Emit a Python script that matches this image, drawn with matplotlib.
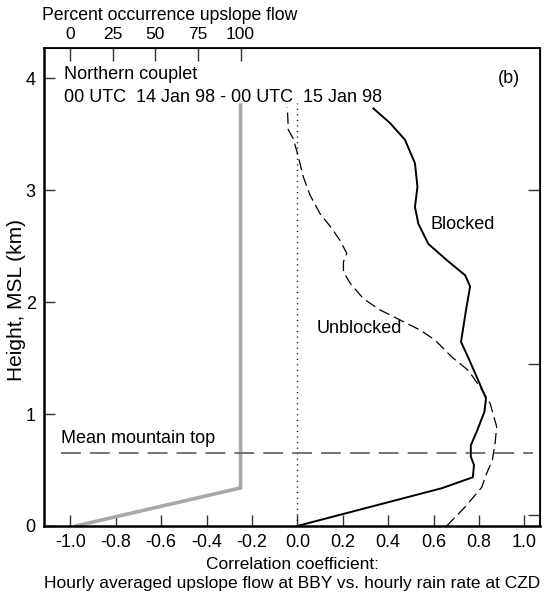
"""Correlation profiles of upslope flow vs rain rate, northern couplet (panel b)."""

import matplotlib

matplotlib.use("Agg")
import matplotlib.pyplot as plt

plt.rcParams["font.family"] = ["Liberation Sans", "DejaVu Sans"]
plt.rcParams["axes.unicode_minus"] = False

# blocked (solid) profile: correlation, height km
blocked_r = [0.0, 0.636, 0.773, 0.778, 0.764, 0.764, 0.793, 0.824, 0.831, 0.797,
             0.758, 0.721, 0.743, 0.761, 0.739, 0.658, 0.577, 0.533, 0.518,
             0.529, 0.518, 0.474, 0.408, 0.335]
blocked_z = [0.0, 0.337, 0.435, 0.545, 0.62, 0.72, 0.857, 1.02, 1.14, 1.30,
             1.48, 1.645, 1.93, 2.14, 2.24, 2.375, 2.52, 2.70, 2.85,
             3.03, 3.24, 3.45, 3.60, 3.73]

# unblocked (dashed) profile
unblocked_r = [0.658, 0.739, 0.812, 0.834, 0.859, 0.871, 0.878, 0.849, 0.805,
               0.753, 0.680, 0.607, 0.541, 0.364, 0.291, 0.232, 0.203, 0.203,
               0.218, 0.188, 0.151, 0.100, 0.056, 0.026, 0.004, -0.018,
               -0.040, -0.044]
unblocked_z = [0.0, 0.17, 0.345, 0.47, 0.589, 0.738, 0.887, 1.095, 1.24,
               1.39, 1.51, 1.66, 1.75, 1.93, 2.03, 2.17, 2.27, 2.36,
               2.435, 2.55, 2.66, 2.79, 2.955, 3.12, 3.30, 3.46,
               3.54, 3.74]

# percent occurrence of upslope flow (top axis)
upslope_pct = [3.3, 100.0, 100.0]
upslope_z = [0.0, 0.34, 3.76]

mountain_top_km = 0.65
x_ticks = [-1.0, -0.8, -0.6, -0.4, -0.2, 0.0, 0.2, 0.4, 0.6, 0.8, 1.0]
y_ticks = [0, 1, 2, 3, 4]
pct_ticks = [0, 25, 50, 75, 100]
right_marks = [0.1, 1.45, 3.0]


def pct_to_r(p):
    return p * 0.0075 - 1.0


def r_to_pct(r):
    return (r + 1.0) / 0.0075


fig = plt.figure(figsize=(5.48, 5.97), dpi=100)
ax = fig.add_axes([0.0803, 0.119, 0.906, 0.8006])

ax.plot([pct_to_r(p) for p in upslope_pct], upslope_z, color="#a8a8a8",
        lw=2.6, solid_joinstyle="miter", zorder=2)
ax.plot(blocked_r, blocked_z, color="black", lw=1.4, zorder=3)
ax.plot(unblocked_r, unblocked_z, color="black", lw=0.9,
        dashes=(9, 4), zorder=3)
ax.plot([0, 0], [0, 3.78], color="black", lw=1.0, dashes=(0.8, 3.2))
ax.plot([-1.04, 1.04], [mountain_top_km, mountain_top_km], color="#6a6a6a",
        lw=1.3, dashes=(11, 5))

ax.set_xlim(-1.116, 1.071)
ax.set_ylim(0, 4.27)
ax.set_xticks(x_ticks)
ax.set_xticklabels([f"{v:.1f}" for v in x_ticks])
ax.set_yticks(y_ticks)
ax.tick_params(direction="in", length=8, width=1.0, labelsize=13,
               color="#333333", pad=6)
for side in ("left", "bottom"):
    ax.spines[side].set_linewidth(1.8)
for side in ("top", "right"):
    ax.spines[side].set_linewidth(1.3)

top = ax.secondary_xaxis("top", functions=(r_to_pct, pct_to_r))
top.set_xticks(pct_ticks)
top.tick_params(direction="in", length=9, width=1.0, labelsize=12.5,
                color="#333333", pad=4)

right = ax.secondary_yaxis("right")
right.set_yticks(right_marks)
right.set_yticklabels([])
right.tick_params(direction="in", length=9, width=1.0, color="#333333")

ax.set_ylabel("Height, MSL (km)", fontsize=15)
ax.yaxis.set_label_coords(-0.036, 0.473)
ax.set_xlabel("Correlation coefficient:\n"
              "Hourly averaged upslope flow at BBY vs. hourly rain rate at CZD",
              fontsize=12.5, linespacing=1.4)
ax.xaxis.set_label_coords(0.5, -0.064)
fig.text(42 / 548, 1 - 15 / 597, "Percent occurrence upslope flow",
         fontsize=12.7, ha="left", va="center")

ax.text(-1.03, 4.03, "Northern couplet", fontsize=13, va="center")
ax.text(-1.03, 3.83, "00 UTC  14 Jan 98 - 00 UTC  15 Jan 98", fontsize=13,
        va="center")
ax.text(0.98, 4.0, "(b)", fontsize=13, ha="right", va="center")
ax.text(0.585, 2.695, "Blocked", fontsize=13, va="center")
ax.text(0.085, 1.76, "Unblocked", fontsize=13, va="center")
ax.text(-1.04, 0.78, "Mean mountain top", fontsize=13, va="center")

fig.savefig("out.png", dpi=100)
